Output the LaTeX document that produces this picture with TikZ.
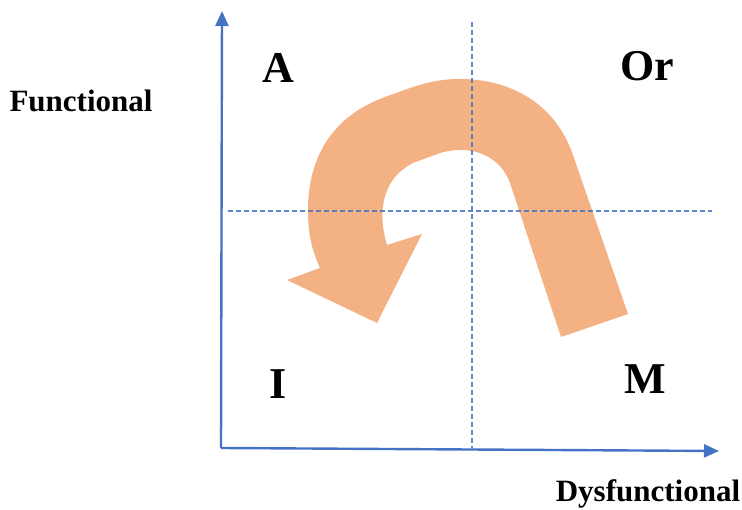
\documentclass[tikz,border=0pt]{standalone}
\usepackage{fontspec}
\setmainfont{Liberation Serif}
\usetikzlibrary{arrows.meta}
\definecolor{axisblue}{HTML}{4472C4}
\definecolor{peach}{HTML}{F4B183}
\tikzset{
  axisline/.style={draw=axisblue,line width=2.4pt,-{Triangle[length=15pt,width=13pt]}},
  guide/.style={draw=axisblue,line width=1.1pt,dash pattern=on 5pt off 3pt,draw opacity=0.85},
  quad/.style={font=\fontsize{44}{44}\selectfont\bfseries,inner sep=0pt},
  axlabel/.style={font=\fontsize{31}{31}\selectfont\bfseries,inner sep=0pt}
}
\begin{document}
\begin{tikzpicture}[x=1pt,y=-1pt]
\useasboundingbox (0,0) rectangle (742,510);
% U-turn arrow
\fill[peach] (628,314) -- (573,155)
  .. controls (555,103) and (510,79) .. (460,79)
  .. controls (440,79) and (425,83) .. (410,88) -- (385,97)
  .. controls (330,117) and (308,160) .. (308,210)
  .. controls (308,235) and (312,250) .. (320,268)
  -- (287,280) -- (377,323) -- (422,234) -- (387,245)
  .. controls (378,215) and (380,180) .. (413,163) -- (440,153)
  .. controls (470,144) and (500,155) .. (510,183)
  -- (561,337) -- cycle;
% guides
\coordinate (vt) at (472,22);
\coordinate (vb) at (472,448);
\coordinate (hl) at (228,211);
\coordinate (hr) at (712,211);
\draw[guide] (vt) -- (vb);
\draw[guide] (hl) -- (hr);
% axes
\coordinate (o) at (221,448);
\coordinate (ytip) at (222,11);
\coordinate (xtip) at (719,451);
\draw[axisline] (o) -- (ytip);
\draw[axisline] (o) -- (xtip);
% labels
\node[quad] (A) at (278,68) {A};
\node[quad] (Or) at (647,66) {Or};
\node[quad] (I) at (278,384) {I};
\node[quad] (M) at (645,379) {M};
\node[axlabel] (F) at (81,101) {Functional};
\node[axlabel] (D) at (648,494) {Dysfunctional};
\end{tikzpicture}
\end{document}
